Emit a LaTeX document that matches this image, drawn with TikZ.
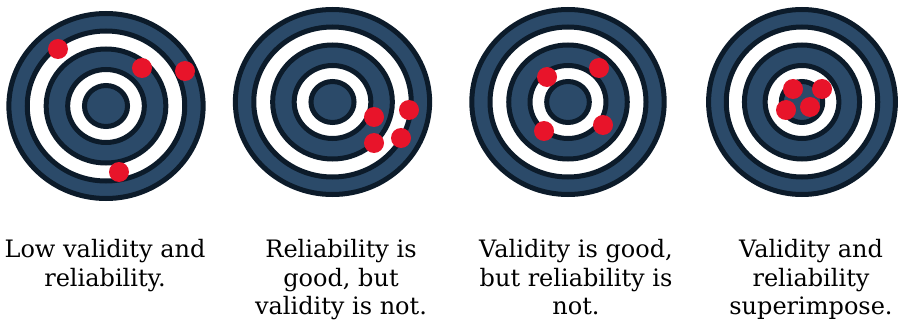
\documentclass[tikz,border=0pt]{standalone}
\usepackage{fontspec}
\setmainfont{DejaVu Serif}
\definecolor{ringblue}{HTML}{2B4A69}
\definecolor{ringedge}{HTML}{0C1B2A}
\definecolor{hitred}{HTML}{E8142A}
\tikzset{
  ringfill/.style={fill=ringblue, draw=ringedge, line width=5pt},
  ringwhite/.style={fill=white, draw=ringedge, line width=5pt},
  hit/.style={fill=hitred},
  caption/.style={align=center, anchor=north, inner sep=0pt,
    font=\fontsize{24}{28.7}\selectfont}
}
% one target: centre, horizontal stretch
\newcommand{\target}[3]{%
  \begin{scope}[shift={(#1,#2)}, xscale=#3]
    \draw[ringfill]  (0,0) circle[radius=92.5];
    \draw[ringwhite] (0,0) circle[radius=75];
    \draw[ringfill]  (0,0) circle[radius=57];
    \draw[ringwhite] (0,0) circle[radius=36.5];
    \draw[ringfill]  (0,0) circle[radius=20.5];
  \end{scope}}
\newcommand{\hitat}[2]{\fill[hit] (#1,#2) circle[radius=10];}
\begin{document}
\begin{tikzpicture}[x=1pt, y=-1pt]
  \useasboundingbox (0,0) rectangle (899,326);

  % targets
  \target{106}{106}{1.05}
  \target{332.5}{102}{1.05}
  \target{568}{102}{1.04}
  \target{802}{102}{1.01}

  % hits on target 1
  \hitat{58}{49}\hitat{142}{68}\hitat{185}{71}\hitat{119}{172}
  % hits on target 2
  \hitat{374}{117}\hitat{409}{110}\hitat{374}{143}\hitat{401}{138}
  % hits on target 3
  \hitat{547}{77}\hitat{599}{68}\hitat{544}{131}\hitat{603}{125}
  % hits on target 4
  \hitat{793}{89}\hitat{822}{89}\hitat{786}{110}\hitat{810}{107}

  % captions
  \node[caption] (c1) at (105,239) {Low validity and\\reliability.};
  \node[caption] (c2) at (341,239) {Reliability is\\good, but\\validity is not.};
  \node[caption] (c3) at (576,239) {Validity is good,\\but reliability is\\not.};
  \node[caption] (c4) at (811,239) {Validity and\\reliability\\superimpose.};
\end{tikzpicture}
\end{document}
